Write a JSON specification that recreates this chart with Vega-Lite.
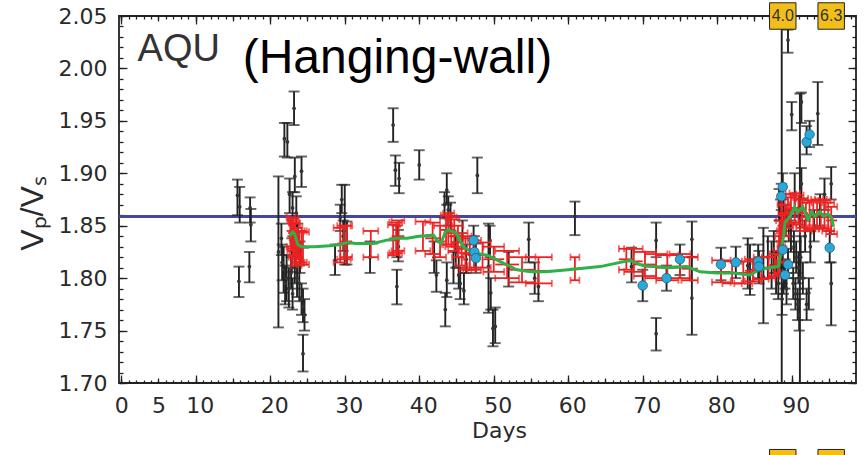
{
"$schema":"https://vega.github.io/schema/vega-lite/v6.json",
"width":737,"height":367,
"autosize":{"type":"none"},
"padding":{"left":119,"top":16,"right":10,"bottom":72},
"background":"white",
"config":{
 "view":{"stroke":"#222","strokeWidth":1.8},
 "axis":{"domain":false,"grid":false,"labelFont":"DejaVu Sans","labelFontSize":21,"labelColor":"#2a2a2a","tickColor":"#222","tickWidth":1.3,"labelFlush":false,"labelOverlap":false,"labelBound":false,"titleFont":"DejaVu Sans","titleFontWeight":"normal","titleColor":"#2a2a2a"}
},
"datasets":{
 "black":[
  {"day":15.6,"v":1.879,"lo":1.860,"hi":1.894},{"day":15.9,"v":1.868,"lo":1.853,"hi":1.887},{"day":15.8,"v":1.797,"lo":1.782,"hi":1.811},
  {"day":17.3,"v":1.867,"lo":1.853,"hi":1.877},{"day":17.4,"v":1.851,"lo":1.835,"hi":1.866},{"day":17.2,"v":1.811,"lo":1.796,"hi":1.825},
  {"day":21.9,"v":1.933,"lo":1.916,"hi":1.948},{"day":22.3,"v":1.930,"lo":1.915,"hi":1.948},{"day":23.2,"v":1.962,"lo":1.946,"hi":1.978},
  {"day":23.3,"v":1.897,"lo":1.882,"hi":1.915},{"day":24.2,"v":1.902,"lo":1.887,"hi":1.916},{"day":21.1,"v":1.825,"lo":1.753,"hi":1.897},
  {"day":24.4,"v":1.728,"lo":1.711,"hi":1.746},{"day":22.6,"v":1.880,"lo":1.862,"hi":1.895},{"day":23.0,"v":1.867,"lo":1.852,"hi":1.882},
  {"day":23.5,"v":1.862,"lo":1.848,"hi":1.878},{"day":21.5,"v":1.838,"lo":1.822,"hi":1.852},{"day":21.8,"v":1.808,"lo":1.786,"hi":1.830},
  {"day":22.0,"v":1.795,"lo":1.775,"hi":1.812},{"day":22.2,"v":1.800,"lo":1.778,"hi":1.822},{"day":22.5,"v":1.790,"lo":1.772,"hi":1.810},
  {"day":22.8,"v":1.805,"lo":1.790,"hi":1.820},{"day":23.0,"v":1.785,"lo":1.770,"hi":1.800},{"day":23.3,"v":1.810,"lo":1.795,"hi":1.825},
  {"day":23.6,"v":1.800,"lo":1.782,"hi":1.815},{"day":23.9,"v":1.795,"lo":1.778,"hi":1.812},{"day":24.2,"v":1.780,"lo":1.765,"hi":1.795},
  {"day":24.4,"v":1.773,"lo":1.758,"hi":1.790},{"day":24.6,"v":1.765,"lo":1.750,"hi":1.780},{"day":22.9,"v":1.822,"lo":1.806,"hi":1.838},
  {"day":24.0,"v":1.820,"lo":1.805,"hi":1.835},{"day":21.6,"v":1.815,"lo":1.798,"hi":1.832},{"day":23.7,"v":1.837,"lo":1.820,"hi":1.852},
  {"day":28.7,"v":1.817,"lo":1.803,"hi":1.832},{"day":29.6,"v":1.875,"lo":1.862,"hi":1.889},{"day":30.0,"v":1.849,"lo":1.813,"hi":1.889},
  {"day":30.3,"v":1.833,"lo":1.813,"hi":1.854},{"day":29.4,"v":1.858,"lo":1.845,"hi":1.870},{"day":29.8,"v":1.840,"lo":1.826,"hi":1.855},
  {"day":33.4,"v":1.820,"lo":1.805,"hi":1.835},{"day":36.5,"v":1.946,"lo":1.930,"hi":1.962},{"day":36.8,"v":1.903,"lo":1.888,"hi":1.917},
  {"day":37.3,"v":1.895,"lo":1.881,"hi":1.910},{"day":40.0,"v":1.908,"lo":1.894,"hi":1.922},{"day":37.0,"v":1.792,"lo":1.775,"hi":1.808},
  {"day":37.2,"v":1.830,"lo":1.816,"hi":1.846},{"day":37.0,"v":1.838,"lo":1.820,"hi":1.850},
  {"day":43.7,"v":1.884,"lo":1.870,"hi":1.900},{"day":43.4,"v":1.870,"lo":1.857,"hi":1.882},{"day":43.9,"v":1.865,"lo":1.850,"hi":1.878},
  {"day":44.2,"v":1.858,"lo":1.845,"hi":1.872},{"day":42.3,"v":1.803,"lo":1.787,"hi":1.817},{"day":43.5,"v":1.770,"lo":1.754,"hi":1.786},
  {"day":43.7,"v":1.798,"lo":1.782,"hi":1.815},{"day":45.5,"v":1.795,"lo":1.780,"hi":1.810},{"day":45.3,"v":1.803,"lo":1.790,"hi":1.820},
  {"day":44.6,"v":1.810,"lo":1.795,"hi":1.825},{"day":42.0,"v":1.820,"lo":1.805,"hi":1.835},{"day":46.0,"v":1.788,"lo":1.775,"hi":1.805},
  {"day":44.9,"v":1.825,"lo":1.810,"hi":1.840},{"day":45.8,"v":1.840,"lo":1.830,"hi":1.855},{"day":46.3,"v":1.818,"lo":1.805,"hi":1.832},
  {"day":47.3,"v":1.836,"lo":1.822,"hi":1.850},{"day":47.4,"v":1.825,"lo":1.810,"hi":1.840},{"day":47.6,"v":1.819,"lo":1.805,"hi":1.833},
  {"day":47.8,"v":1.898,"lo":1.881,"hi":1.915},{"day":49.9,"v":1.752,"lo":1.735,"hi":1.770},{"day":50.2,"v":1.754,"lo":1.738,"hi":1.772},
  {"day":49.3,"v":1.811,"lo":1.767,"hi":1.852},{"day":49.5,"v":1.836,"lo":1.820,"hi":1.850},{"day":49.6,"v":1.786,"lo":1.770,"hi":1.800},
  {"day":52.0,"v":1.810,"lo":1.792,"hi":1.825},{"day":54.7,"v":1.837,"lo":1.815,"hi":1.853},{"day":56.0,"v":1.792,"lo":1.778,"hi":1.806},
  {"day":60.9,"v":1.859,"lo":1.841,"hi":1.873},{"day":55.5,"v":1.800,"lo":1.785,"hi":1.815},
  {"day":68.5,"v":1.811,"lo":1.796,"hi":1.829},{"day":71.8,"v":1.836,"lo":1.820,"hi":1.853},{"day":71.8,"v":1.747,"lo":1.731,"hi":1.762},
  {"day":76.6,"v":1.837,"lo":1.820,"hi":1.854},{"day":76.6,"v":1.781,"lo":1.746,"hi":1.820},
  {"day":70.0,"v":1.793,"lo":1.778,"hi":1.808},{"day":73.2,"v":1.800,"lo":1.788,"hi":1.812},{"day":75.0,"v":1.818,"lo":1.803,"hi":1.832},
  {"day":80.5,"v":1.813,"lo":1.798,"hi":1.829},{"day":82.5,"v":1.815,"lo":1.800,"hi":1.830},{"day":85.5,"v":1.816,"lo":1.800,"hi":1.832},
  {"day":85.6,"v":1.811,"lo":1.795,"hi":1.826},{"day":84.4,"v":1.808,"lo":1.784,"hi":1.832},{"day":86.2,"v":1.801,"lo":1.757,"hi":1.848},
  {"day":86.8,"v":1.820,"lo":1.800,"hi":1.840},{"day":87.3,"v":1.812,"lo":1.790,"hi":1.835},{"day":87.6,"v":1.825,"lo":1.805,"hi":1.845},
  {"day":87.9,"v":1.805,"lo":1.785,"hi":1.825},{"day":84.1,"v":1.812,"lo":1.790,"hi":1.838},
  {"day":88.66,"v":1.850,"lo":1.600,"hi":2.100},{"day":91.1,"v":1.800,"lo":1.650,"hi":1.976},{"day":89.5,"v":2.027,"lo":2.015,"hi":2.037},
  {"day":91.3,"v":1.968,"lo":1.948,"hi":1.977},{"day":90.0,"v":1.956,"lo":1.941,"hi":1.968},{"day":93.5,"v":1.957,"lo":1.927,"hi":1.987},
  {"day":95.3,"v":1.890,"lo":1.875,"hi":1.906},{"day":94.4,"v":1.880,"lo":1.865,"hi":1.895},{"day":95.3,"v":1.795,"lo":1.755,"hi":1.815},
  {"day":92.3,"v":1.786,"lo":1.770,"hi":1.800},{"day":92.0,"v":1.930,"lo":1.918,"hi":1.945},{"day":92.4,"v":1.937,"lo":1.925,"hi":1.950},
  {"day":88.8,"v":1.887,"lo":1.875,"hi":1.900},{"day":88.6,"v":1.878,"lo":1.865,"hi":1.890},{"day":88.8,"v":1.827,"lo":1.810,"hi":1.845},
  {"day":89.5,"v":1.813,"lo":1.800,"hi":1.828},{"day":89.1,"v":1.803,"lo":1.790,"hi":1.818},{"day":95.1,"v":1.829,"lo":1.815,"hi":1.845},
  {"day":88.3,"v":1.870,"lo":1.855,"hi":1.885},{"day":88.5,"v":1.860,"lo":1.845,"hi":1.875},{"day":88.9,"v":1.865,"lo":1.850,"hi":1.880},
  {"day":89.2,"v":1.855,"lo":1.840,"hi":1.870},{"day":88.4,"v":1.840,"lo":1.825,"hi":1.855},{"day":88.6,"v":1.820,"lo":1.805,"hi":1.835},
  {"day":88.9,"v":1.800,"lo":1.785,"hi":1.815},{"day":89.3,"v":1.790,"lo":1.775,"hi":1.805},{"day":88.2,"v":1.795,"lo":1.780,"hi":1.810},
  {"day":88.7,"v":1.780,"lo":1.765,"hi":1.795},{"day":89.6,"v":1.850,"lo":1.835,"hi":1.865},{"day":89.9,"v":1.840,"lo":1.825,"hi":1.855},
  {"day":90.3,"v":1.830,"lo":1.815,"hi":1.845},{"day":90.6,"v":1.820,"lo":1.805,"hi":1.835},{"day":90.9,"v":1.810,"lo":1.795,"hi":1.825},
  {"day":91.2,"v":1.820,"lo":1.800,"hi":1.840},{"day":91.5,"v":1.800,"lo":1.785,"hi":1.815},{"day":90.2,"v":1.795,"lo":1.780,"hi":1.810},
  {"day":90.5,"v":1.785,"lo":1.770,"hi":1.800},{"day":90.8,"v":1.775,"lo":1.760,"hi":1.790},{"day":91.0,"v":1.765,"lo":1.750,"hi":1.780},
  {"day":90.4,"v":1.880,"lo":1.860,"hi":1.900},{"day":91.3,"v":1.890,"lo":1.875,"hi":1.905},{"day":92.0,"v":1.775,"lo":1.760,"hi":1.790},
  {"day":91.8,"v":1.840,"lo":1.825,"hi":1.855},{"day":92.5,"v":1.830,"lo":1.815,"hi":1.845},{"day":93.0,"v":1.850,"lo":1.835,"hi":1.865},
  {"day":93.8,"v":1.865,"lo":1.850,"hi":1.880}
 ],
 "red":[
  {"d":22.7,"v":1.845,"dlo":22.2,"dhi":23.4,"vlo":1.830,"vhi":1.858},{"d":22.8,"v":1.840,"dlo":22.3,"dhi":23.6,"vlo":1.826,"vhi":1.855},
  {"d":23.0,"v":1.843,"dlo":22.4,"dhi":23.8,"vlo":1.828,"vhi":1.857},{"d":23.1,"v":1.836,"dlo":22.5,"dhi":23.9,"vlo":1.820,"vhi":1.853},
  {"d":23.3,"v":1.838,"dlo":22.6,"dhi":24.0,"vlo":1.822,"vhi":1.852},{"d":23.5,"v":1.828,"dlo":22.8,"dhi":24.2,"vlo":1.812,"vhi":1.845},
  {"d":23.6,"v":1.833,"dlo":22.8,"dhi":24.3,"vlo":1.818,"vhi":1.848},{"d":23.9,"v":1.830,"dlo":23.0,"dhi":24.6,"vlo":1.815,"vhi":1.845},
  {"d":24.2,"v":1.830,"dlo":23.3,"dhi":24.9,"vlo":1.815,"vhi":1.845},{"d":24.4,"v":1.829,"dlo":23.6,"dhi":25.2,"vlo":1.813,"vhi":1.844},
  {"d":29.4,"v":1.832,"dlo":28.5,"dhi":30.3,"vlo":1.815,"vhi":1.848},{"d":29.9,"v":1.833,"dlo":29.0,"dhi":30.8,"vlo":1.818,"vhi":1.850},
  {"d":30.3,"v":1.835,"dlo":29.4,"dhi":31.0,"vlo":1.820,"vhi":1.850},{"d":33.5,"v":1.833,"dlo":32.5,"dhi":34.5,"vlo":1.820,"vhi":1.845},
  {"d":36.5,"v":1.836,"dlo":35.8,"dhi":37.4,"vlo":1.822,"vhi":1.851},{"d":36.9,"v":1.838,"dlo":36.0,"dhi":37.7,"vlo":1.824,"vhi":1.853},
  {"d":37.2,"v":1.840,"dlo":36.3,"dhi":38.0,"vlo":1.826,"vhi":1.855},{"d":40.5,"v":1.840,"dlo":39.5,"dhi":41.5,"vlo":1.826,"vhi":1.854},
  {"d":41.8,"v":1.838,"dlo":40.8,"dhi":42.8,"vlo":1.823,"vhi":1.853},{"d":42.8,"v":1.835,"dlo":42.0,"dhi":43.6,"vlo":1.820,"vhi":1.850},
  {"d":43.6,"v":1.846,"dlo":42.9,"dhi":44.4,"vlo":1.832,"vhi":1.860},{"d":43.9,"v":1.846,"dlo":43.2,"dhi":44.7,"vlo":1.832,"vhi":1.862},
  {"d":44.3,"v":1.843,"dlo":43.5,"dhi":45.0,"vlo":1.830,"vhi":1.858},{"d":44.7,"v":1.840,"dlo":43.9,"dhi":45.4,"vlo":1.826,"vhi":1.856},
  {"d":45.2,"v":1.834,"dlo":44.4,"dhi":45.9,"vlo":1.820,"vhi":1.850},{"d":45.7,"v":1.828,"dlo":44.9,"dhi":46.5,"vlo":1.812,"vhi":1.843},
  {"d":46.2,"v":1.824,"dlo":45.4,"dhi":47.0,"vlo":1.808,"vhi":1.840},{"d":46.8,"v":1.823,"dlo":45.9,"dhi":47.6,"vlo":1.808,"vhi":1.838},
  {"d":47.4,"v":1.822,"dlo":46.5,"dhi":48.3,"vlo":1.808,"vhi":1.836},{"d":48.5,"v":1.822,"dlo":47.4,"dhi":49.6,"vlo":1.810,"vhi":1.834},
  {"d":50.0,"v":1.818,"dlo":48.6,"dhi":51.4,"vlo":1.806,"vhi":1.830},{"d":51.8,"v":1.813,"dlo":50.2,"dhi":53.4,"vlo":1.800,"vhi":1.826},
  {"d":53.8,"v":1.808,"dlo":52.0,"dhi":55.6,"vlo":1.796,"vhi":1.820},{"d":56.0,"v":1.807,"dlo":54.3,"dhi":57.8,"vlo":1.795,"vhi":1.820},
  {"d":60.9,"v":1.809,"dlo":60.3,"dhi":61.5,"vlo":1.798,"vhi":1.820},{"d":67.8,"v":1.818,"dlo":66.8,"dhi":68.8,"vlo":1.808,"vhi":1.828},
  {"d":68.8,"v":1.816,"dlo":67.5,"dhi":70.0,"vlo":1.806,"vhi":1.828},{"d":70.3,"v":1.813,"dlo":68.8,"dhi":71.8,"vlo":1.802,"vhi":1.825},
  {"d":71.8,"v":1.811,"dlo":70.3,"dhi":73.3,"vlo":1.800,"vhi":1.823},{"d":73.3,"v":1.810,"dlo":71.8,"dhi":74.8,"vlo":1.798,"vhi":1.822},
  {"d":75.0,"v":1.811,"dlo":73.6,"dhi":76.4,"vlo":1.800,"vhi":1.823},{"d":76.3,"v":1.809,"dlo":75.2,"dhi":77.4,"vlo":1.798,"vhi":1.820},
  {"d":80.5,"v":1.806,"dlo":79.3,"dhi":81.8,"vlo":1.796,"vhi":1.817},{"d":82.0,"v":1.805,"dlo":80.7,"dhi":83.3,"vlo":1.795,"vhi":1.816},
  {"d":83.5,"v":1.805,"dlo":82.3,"dhi":84.7,"vlo":1.795,"vhi":1.816},{"d":84.8,"v":1.807,"dlo":83.7,"dhi":85.9,"vlo":1.797,"vhi":1.818},
  {"d":85.9,"v":1.809,"dlo":84.9,"dhi":86.9,"vlo":1.799,"vhi":1.820},{"d":86.9,"v":1.810,"dlo":86.0,"dhi":87.8,"vlo":1.800,"vhi":1.820},
  {"d":87.7,"v":1.812,"dlo":87.0,"dhi":88.4,"vlo":1.802,"vhi":1.823},{"d":88.2,"v":1.815,"dlo":87.6,"dhi":88.8,"vlo":1.804,"vhi":1.826},
  {"d":88.3,"v":1.822,"dlo":87.8,"dhi":88.8,"vlo":1.805,"vhi":1.840},{"d":88.4,"v":1.835,"dlo":87.9,"dhi":88.9,"vlo":1.815,"vhi":1.855},
  {"d":88.5,"v":1.830,"dlo":88.0,"dhi":89.0,"vlo":1.815,"vhi":1.845},{"d":88.6,"v":1.850,"dlo":88.1,"dhi":89.1,"vlo":1.830,"vhi":1.870},
  {"d":88.7,"v":1.860,"dlo":88.2,"dhi":89.2,"vlo":1.845,"vhi":1.878},{"d":88.8,"v":1.845,"dlo":88.2,"dhi":89.3,"vlo":1.828,"vhi":1.862},
  {"d":89.1,"v":1.855,"dlo":88.5,"dhi":89.7,"vlo":1.840,"vhi":1.870},{"d":89.5,"v":1.862,"dlo":88.8,"dhi":90.2,"vlo":1.848,"vhi":1.877},
  {"d":89.9,"v":1.866,"dlo":89.2,"dhi":90.6,"vlo":1.852,"vhi":1.880},{"d":90.4,"v":1.867,"dlo":89.7,"dhi":91.1,"vlo":1.853,"vhi":1.881},
  {"d":90.9,"v":1.865,"dlo":90.1,"dhi":91.6,"vlo":1.851,"vhi":1.879},{"d":91.4,"v":1.862,"dlo":90.6,"dhi":92.2,"vlo":1.848,"vhi":1.876},
  {"d":91.9,"v":1.858,"dlo":91.1,"dhi":92.7,"vlo":1.845,"vhi":1.872},{"d":92.4,"v":1.860,"dlo":91.6,"dhi":93.2,"vlo":1.847,"vhi":1.874},
  {"d":92.9,"v":1.860,"dlo":92.1,"dhi":93.7,"vlo":1.847,"vhi":1.874},{"d":93.4,"v":1.861,"dlo":92.6,"dhi":94.2,"vlo":1.848,"vhi":1.875},
  {"d":93.9,"v":1.861,"dlo":93.1,"dhi":94.7,"vlo":1.848,"vhi":1.875},{"d":94.4,"v":1.860,"dlo":93.6,"dhi":95.2,"vlo":1.847,"vhi":1.874},
  {"d":94.9,"v":1.858,"dlo":94.1,"dhi":95.7,"vlo":1.845,"vhi":1.872},{"d":95.3,"v":1.855,"dlo":94.6,"dhi":96.1,"vlo":1.842,"vhi":1.868}
 ],
 "green":[
  {"day":22.6,"v":1.840},{"day":23.0,"v":1.844},{"day":23.3,"v":1.842},{"day":23.7,"v":1.832},{"day":24.2,"v":1.830},{"day":26.0,"v":1.830},
  {"day":28.0,"v":1.831},{"day":29.4,"v":1.832},{"day":30.3,"v":1.834},{"day":31.5,"v":1.833},{"day":33.8,"v":1.833},{"day":35.5,"v":1.836},
  {"day":37.0,"v":1.838},{"day":38.4,"v":1.838},{"day":40.0,"v":1.840},{"day":41.9,"v":1.841},{"day":42.5,"v":1.835},{"day":42.9,"v":1.833},
  {"day":43.5,"v":1.844},{"day":43.9,"v":1.846},{"day":45.0,"v":1.843},{"day":45.9,"v":1.830},{"day":47.3,"v":1.824},{"day":49.1,"v":1.822},
  {"day":50.8,"v":1.816},{"day":53.1,"v":1.808},{"day":55.0,"v":1.806},{"day":57.0,"v":1.806},{"day":60.0,"v":1.808},{"day":64.3,"v":1.811},
  {"day":68.3,"v":1.817},{"day":70.0,"v":1.812},{"day":73.2,"v":1.810},{"day":75.9,"v":1.811},{"day":77.7,"v":1.806},{"day":80.0,"v":1.805},
  {"day":82.1,"v":1.805},{"day":84.4,"v":1.803},{"day":85.7,"v":1.808},{"day":87.0,"v":1.810},{"day":88.2,"v":1.811},{"day":88.6,"v":1.827},
  {"day":88.9,"v":1.840},{"day":89.1,"v":1.853},{"day":89.8,"v":1.859},{"day":90.4,"v":1.868},{"day":90.8,"v":1.863},{"day":91.5,"v":1.868},
  {"day":92.2,"v":1.856},{"day":92.7,"v":1.863},{"day":93.1,"v":1.859},{"day":93.8,"v":1.863},{"day":94.3,"v":1.859},{"day":94.9,"v":1.861},
  {"day":95.4,"v":1.857},{"day":95.6,"v":1.849}
 ],
 "cyan":[
  {"day":47.3,"v":1.836},{"day":47.4,"v":1.825},{"day":47.6,"v":1.819},{"day":70.0,"v":1.793},{"day":73.2,"v":1.800},{"day":75.0,"v":1.818},
  {"day":80.5,"v":1.813},{"day":82.5,"v":1.815},{"day":85.5,"v":1.816},{"day":85.6,"v":1.811},{"day":88.8,"v":1.887},{"day":88.6,"v":1.878},
  {"day":88.8,"v":1.827},{"day":89.5,"v":1.813},{"day":89.1,"v":1.803},{"day":92.0,"v":1.930},{"day":92.4,"v":1.937},{"day":95.1,"v":1.829}
 ],
 "events":[{"day":88.8,"mag":"4.0"},{"day":95.3,"mag":"6.3"}]
},
"resolve":{"axis":{"x":"independent","y":"independent"}},
"layer":[
 {"data":{"name":"black"},"mark":{"type":"rule","color":"#44479f","strokeWidth":2},
  "encoding":{"y":{"datum":1.859,"type":"quantitative","scale":{"domain":[1.70,2.05],"nice":false,"zero":false},"axis":null}}},
 {"data":{"name":"black"},"mark":{"type":"rule","color":"#222","strokeWidth":1.9,"clip":true},
  "encoding":{
   "x":{"field":"day","type":"quantitative","scale":{"domain":[-0.3,98.63],"nice":false,"zero":false},
     "axis":{"orient":"bottom","values":[0,5,10,20,30,40,50,60,70,80,90],"ticks":false,"labelPadding":12,"labelFontSize":22,
       "labelOffset":{"condition":{"test":"datum.value >= 10","value":4},"value":0},
       "title":"Days","titleX":380,"titleY":54,"titleAlign":"center","titleBaseline":"alphabetic","titleFontSize":22}},
   "y":{"field":"lo","type":"quantitative","scale":{"domain":[1.70,2.05],"nice":false,"zero":false},
     "axis":{"orient":"left","values":[1.70,1.75,1.80,1.85,1.90,1.95,2.00,2.05],"format":".2f","ticks":false,"labelPadding":12,"labelFontSize":22,
       "title":"Vₚ/Vₛ","titleFont":"Liberation Sans","titleFontSize":32,"titleAngle":-90,"titleX":-77,"titleY":197,"titleAlign":"center","titleBaseline":"alphabetic"}},
   "y2":{"field":"hi"}}},
 {"data":{"name":"black"},"mark":{"type":"tick","orient":"horizontal","size":11,"thickness":1.9,"color":"#222","clip":true},
  "encoding":{
   "x":{"field":"day","type":"quantitative","axis":{"orient":"bottom","values":[0,1,2,3,4,5,6,7,8,9,10,11,12,13,14,15,16,17,18,19,20,21,22,23,24,25,26,27,28,29,30,31,32,33,34,35,36,37,38,39,40,41,42,43,44,45,46,47,48,49,50,51,52,53,54,55,56,57,58,59,60,61,62,63,64,65,66,67,68,69,70,71,72,73,74,75,76,77,78,79,80,81,82,83,84,85,86,87,88,89,90,91,92,93,94,95,96,97,98],"labels":false,"tickSize":-3,"title":null}},
   "y":{"field":"lo","type":"quantitative","axis":{"orient":"left","values":[1.70,1.71,1.72,1.73,1.74,1.75,1.76,1.77,1.78,1.79,1.80,1.81,1.82,1.83,1.84,1.85,1.86,1.87,1.88,1.89,1.90,1.91,1.92,1.93,1.94,1.95,1.96,1.97,1.98,1.99,2.00,2.01,2.02,2.03,2.04,2.05],"labels":false,"tickSize":-4,"title":null}}}},
 {"data":{"name":"black"},"mark":{"type":"tick","orient":"horizontal","size":11,"thickness":1.9,"color":"#222","clip":true},
  "encoding":{
   "x":{"field":"day","type":"quantitative","axis":{"orient":"bottom","values":[0,5,10,15,20,25,30,35,40,45,50,55,60,65,70,75,80,85,90,95],"labels":false,"tickSize":-5,"title":null}},
   "y":{"field":"hi","type":"quantitative","axis":{"orient":"left","values":[1.70,1.75,1.80,1.85,1.90,1.95,2.00,2.05],"labels":false,"tickSize":-8,"title":null}}}},
 {"data":{"name":"black"},"mark":{"type":"circle","size":14,"color":"#333","opacity":1},
  "encoding":{
   "x":{"field":"day","type":"quantitative","axis":{"orient":"bottom","values":[0,10,20,30,40,50,60,70,80,90],"labels":false,"tickSize":-8,"title":null}},
   "y":{"field":"v","type":"quantitative","axis":{"orient":"right","values":[1.70,1.71,1.72,1.73,1.74,1.75,1.76,1.77,1.78,1.79,1.80,1.81,1.82,1.83,1.84,1.85,1.86,1.87,1.88,1.89,1.90,1.91,1.92,1.93,1.94,1.95,1.96,1.97,1.98,1.99,2.00,2.01,2.02,2.03,2.04,2.05],"labels":false,"tickSize":-4,"title":null}}}},
 {"data":{"name":"red"},"mark":{"type":"rule","color":"#ee2222","strokeWidth":1.8},
  "encoding":{
   "x":{"field":"dlo","type":"quantitative","axis":{"orient":"top","values":[0,1,2,3,4,5,6,7,8,9,10,11,12,13,14,15,16,17,18,19,20,21,22,23,24,25,26,27,28,29,30,31,32,33,34,35,36,37,38,39,40,41,42,43,44,45,46,47,48,49,50,51,52,53,54,55,56,57,58,59,60,61,62,63,64,65,66,67,68,69,70,71,72,73,74,75,76,77,78,79,80,81,82,83,84,85,86,87,88,89,90,91,92,93,94,95,96,97,98],"labels":false,"tickSize":-3,"title":null}},
   "x2":{"field":"dhi"},
   "y":{"field":"vlo","type":"quantitative","axis":{"orient":"right","values":[1.70,1.75,1.80,1.85,1.90,1.95,2.00,2.05],"labels":false,"tickSize":-8,"title":null}}}},
 {"data":{"name":"red"},"mark":{"type":"rule","color":"#ee2222","strokeWidth":1.8},
  "encoding":{
   "x":{"field":"dlo","type":"quantitative","axis":{"orient":"top","values":[0,5,10,15,20,25,30,35,40,45,50,55,60,65,70,75,80,85,90,95],"labels":false,"tickSize":-5,"title":null}},
   "x2":{"field":"dhi"},
   "y":{"field":"vhi","type":"quantitative","axis":null}}},
 {"data":{"name":"red"},"mark":{"type":"rule","color":"#ee2222","strokeWidth":1.8},
  "encoding":{
   "x":{"field":"d","type":"quantitative","axis":{"orient":"top","values":[0,10,20,30,40,50,60,70,80,90],"labels":false,"tickSize":-8,"title":null}},
   "y":{"field":"vlo","type":"quantitative","axis":null},"y2":{"field":"vhi"}}},
 {"data":{"name":"red"},"mark":{"type":"rule","color":"#ee2222","strokeWidth":1.8},
  "encoding":{"x":{"field":"dlo","type":"quantitative","axis":null},"x2":{"field":"dhi"},"y":{"field":"v","type":"quantitative","axis":null}}},
 {"data":{"name":"red"},"mark":{"type":"tick","orient":"vertical","size":7,"thickness":1.8,"color":"#ee2222"},
  "encoding":{"x":{"field":"dlo","type":"quantitative","axis":null},"y":{"field":"vlo","type":"quantitative","axis":null}}},
 {"data":{"name":"red"},"mark":{"type":"tick","orient":"vertical","size":7,"thickness":1.8,"color":"#ee2222"},
  "encoding":{"x":{"field":"dhi","type":"quantitative","axis":null},"y":{"field":"vlo","type":"quantitative","axis":null}}},
 {"data":{"name":"red"},"mark":{"type":"tick","orient":"vertical","size":7,"thickness":1.8,"color":"#ee2222"},
  "encoding":{"x":{"field":"dlo","type":"quantitative","axis":null},"y":{"field":"vhi","type":"quantitative","axis":null}}},
 {"data":{"name":"red"},"mark":{"type":"tick","orient":"vertical","size":7,"thickness":1.8,"color":"#ee2222"},
  "encoding":{"x":{"field":"dhi","type":"quantitative","axis":null},"y":{"field":"vhi","type":"quantitative","axis":null}}},
 {"data":{"name":"green"},"mark":{"type":"line","color":"#2db24a","strokeWidth":3},
  "encoding":{"x":{"field":"day","type":"quantitative","axis":null},"y":{"field":"v","type":"quantitative","axis":null}}},
 {"data":{"name":"cyan"},"mark":{"type":"circle","size":90,"fill":"#2aa9d8","stroke":"#1e5a7a","strokeWidth":0.8,"opacity":1},
  "encoding":{"x":{"field":"day","type":"quantitative","axis":null},"y":{"field":"v","type":"quantitative","axis":null}}},
 {"data":{"values":[{"t":"AQU"}]},"mark":{"type":"text","align":"left","baseline":"alphabetic","font":"Liberation Sans","fontSize":38,"color":"#333"},
  "encoding":{"text":{"field":"t"},"x":{"datum":2.2,"type":"quantitative","axis":null},"y":{"datum":2.007,"type":"quantitative","axis":null}}},
 {"data":{"values":[{"t":"(Hanging-wall)"}]},"mark":{"type":"text","align":"left","baseline":"alphabetic","font":"Liberation Sans","fontSize":48,"color":"#000"},
  "encoding":{"text":{"field":"t"},"x":{"datum":16.3,"type":"quantitative","axis":null},"y":{"datum":1.9957,"type":"quantitative","axis":null}}},
 {"data":{"name":"events"},"mark":{"type":"square","size":700,"fill":"#f2bf1a","stroke":"#222","strokeWidth":1,"opacity":1,"clip":false},
  "encoding":{"x":{"field":"day","type":"quantitative","axis":null},"y":{"datum":2.05,"type":"quantitative","axis":null}}},
 {"data":{"name":"events"},"mark":{"type":"square","size":700,"fill":"#f2bf1a","stroke":"#222","strokeWidth":1,"opacity":1,"clip":false},
  "encoding":{"x":{"field":"day","type":"quantitative","axis":null},"y":{"datum":1.624,"type":"quantitative","axis":null}}},
 {"data":{"name":"events"},"mark":{"type":"text","align":"center","baseline":"middle","font":"Liberation Sans","fontSize":16,"color":"#333"},
  "encoding":{"text":{"field":"mag"},"x":{"field":"day","type":"quantitative","axis":null},"y":{"datum":2.05,"type":"quantitative","axis":null}}}
]
}
